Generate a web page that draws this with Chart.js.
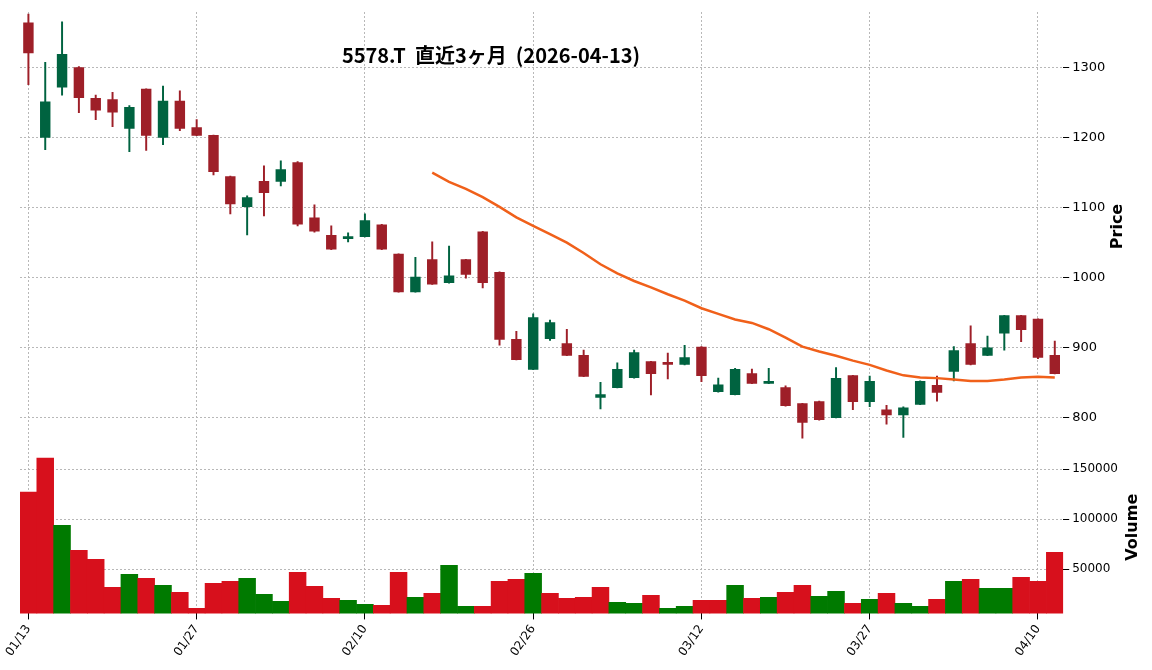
<!DOCTYPE html>
<html>
<head>
<meta charset="utf-8">
<script src="https://cdn.jsdelivr.net/npm/chart.js@4"></script>
<style>
  body { margin: 0; background: #fff; }
  #wrap { width: 1152px; height: 670px; }
</style>
</head>
<body>
<div id="wrap"><canvas id="c"></canvas></div>
<script>
// Données
const dates = ['01/13','01/14','01/15','01/16','01/19','01/20','01/21','01/22','01/23','01/26',
  '01/27','01/28','01/29','01/30','02/02','02/03','02/04','02/05','02/06','02/09',
  '02/10','02/12','02/13','02/16','02/17','02/18','02/19','02/20','02/24','02/25',
  '02/26','02/27','03/02','03/03','03/04','03/05','03/06','03/09','03/10','03/11',
  '03/12','03/13','03/16','03/17','03/18','03/19','03/23','03/24','03/25','03/26',
  '03/27','03/30','03/31','04/01','04/02','04/03','04/06','04/07','04/08','04/09',
  '04/10','04/13'];
const opens = [1365,1200,1272,1301,1257,1255,1213,1270,1200,1253,
  1215,1204,1145,1101,1138,1137,1165,1086,1061,1055,
  1058,1076,1034,979,1026,992,1026,1066,1008,912,
  868,912,906,889,828,842,856,880,879,875,
  901,836,832,863,848,843,820,823,799,860,
  822,811,803,818,846,865,906,888,920,946,
  941,889];
const highs = [1377,1308,1366,1302,1261,1265,1246,1270,1274,1267,
  1226,1204,1145,1117,1160,1167,1166,1104,1074,1064,
  1091,1076,1034,1029,1051,1045,1026,1066,1008,923,
  948,939,926,896,850,878,896,880,892,903,
  901,856,870,869,870,845,820,823,871,860,
  859,817,815,852,859,901,931,916,946,946,
  941,909];
const lows = [1276,1183,1261,1236,1226,1216,1180,1182,1190,1210,
  1203,1147,1091,1061,1088,1131,1074,1065,1040,1051,
  1058,1040,979,979,990,992,999,985,903,882,
  868,910,888,858,812,842,856,832,855,875,
  851,836,832,848,848,816,770,796,799,811,
  815,790,771,818,823,852,875,888,896,908,
  884,862];
const closes = [1321,1252,1320,1257,1239,1236,1244,1203,1253,1213,
  1203,1151,1105,1115,1121,1155,1076,1066,1040,1059,
  1082,1040,979,1001,990,1003,1004,992,911,882,
  943,936,888,858,833,869,893,862,875,886,
  859,847,869,848,852,816,792,796,856,822,
  852,803,814,852,835,896,875,900,946,925,
  885,862];
const volumes = [127000,161000,94000,69000,60000,32000,45000,41000,34000,27000,
  11000,36000,38000,41000,25000,18000,47000,33000,21000,19000,
  15000,14000,47000,22000,26000,54000,13000,13000,38000,40000,
  46000,26000,21000,22000,32000,17000,16000,24000,11000,13000,
  19000,19000,34000,21000,22000,27000,34000,23000,28000,16000,
  20000,26000,16000,13000,20000,38000,40000,31000,31000,42000,
  38000,67000];
const ma25 = [null,null,null,null,null,null,null,null,null,null,
  null,null,null,null,null,null,null,null,null,null,
  null,null,null,null,1150,1137,1127,1115,1101,1086,
  1074,1062,1050,1035,1019,1006,995,986,976,967,
  956,948,940,935,926,914,901,894,888,881,
  875,867,860,857,856,854,852,852,854,857,
  858,857];
const priceTicks = [800, 900, 1000, 1100, 1200, 1300];
const volumeTicks = [50000, 100000, 150000];
const titleText = '5578.T  直近3ヶ月  (2026-04-13)';

const UP = '#006340', DOWN = '#9e1f28';
const VUP = '#007a00', VDOWN = '#d7101c';

const candleCol = closes.map((c, i) => c >= opens[i] ? UP : DOWN);
const volCol = closes.map((c, i) => (i > 0 && c >= closes[i - 1]) ? VUP : VDOWN);

const bodies = opens.map((o, i) => [Math.min(o, closes[i]), Math.max(o, closes[i])]);
const wicks = lows.map((l, i) => [l, highs[i]]);

const grid = { color: '#b8b8b8', tickLength: 6, tickColor: '#000' };
const noBorder = { display: false, dash: [2, 2] };

// Titre et titres d'axes dessinés à la main
const titlePlugin = {
  id: 'titre',
  afterDraw(chart) {
    const ctx = chart.ctx;
    ctx.save();
    ctx.font = 'bold 20px "Noto Sans CJK JP"';
    ctx.fillStyle = '#000';
    ctx.textAlign = 'center';
    ctx.textBaseline = 'middle';
    ctx.fillText(titleText, 491, 55);
    ctx.font = 'bold 16px "DejaVu Sans"';
    const yp = chart.scales.y, yv = chart.scales.yv;
    ctx.save();
    ctx.translate(1118, (yp.top + yp.bottom) / 2);
    ctx.rotate(-Math.PI / 2);
    ctx.fillText('Price', 0, 0);
    ctx.restore();
    ctx.translate(1133, (yv.top + yv.bottom) / 2);
    ctx.rotate(-Math.PI / 2);
    ctx.fillText('Volume', 0, 0);
    ctx.restore();
  }
};

new Chart(document.getElementById('c'), {
  type: 'bar',
  data: {
    labels: dates,
    datasets: [
      { type: 'line', data: ma25, yAxisID: 'y', borderColor: '#f0601a', borderWidth: 2.5,
        pointRadius: 0, order: 0 },
      { data: bodies, yAxisID: 'y', backgroundColor: candleCol, grouped: false,
        barPercentage: 0.62, categoryPercentage: 1, minBarLength: 2, order: 1 },
      { data: wicks, yAxisID: 'y', backgroundColor: candleCol, grouped: false,
        barThickness: 1.3, order: 2 },
      { data: volumes, yAxisID: 'yv', backgroundColor: volCol, grouped: false,
        barPercentage: 1, categoryPercentage: 1, order: 3 }
    ]
  },
  options: {
    responsive: true,
    maintainAspectRatio: false,
    animation: false,
    layout: { padding: { left: 20, top: 12, right: 31, bottom: 8 } },
    plugins: { legend: { display: false }, tooltip: { enabled: false } },
    scales: {
      x: {
        offset: true,
        grid: { color: '#b8b8b8', tickLength: 6, tickColor: '#000', offset: false },
        border: noBorder,
        ticks: {
          autoSkip: false, maxRotation: 55, minRotation: 55,
          font: { family: 'DejaVu Sans', size: 12 }, color: '#000',
          callback(v, i) { return i % 10 === 0 ? dates[i] : null; }
        }
      },
      y: {
        position: 'right', stack: 'p', stackWeight: 428, offset: false,
        min: 766, max: 1380,
        afterBuildTicks(s) { s.ticks = priceTicks.map(v => ({ value: v })); },
        grid: grid, border: noBorder,
        ticks: { font: { family: 'DejaVu Sans', size: 13 }, color: '#000', callback: v => String(v) }
      },
      yv: {
        position: 'right', stack: 'p', stackWeight: 172, offset: false,
        min: 6000, max: 178000,
        afterBuildTicks(s) { s.ticks = volumeTicks.map(v => ({ value: v })); },
        grid: grid, border: noBorder,
        ticks: { font: { family: 'DejaVu Sans', size: 12 }, color: '#000', callback: v => String(v) }
      }
    }
  },
  plugins: [titlePlugin]
});
</script>
</body>
</html>
